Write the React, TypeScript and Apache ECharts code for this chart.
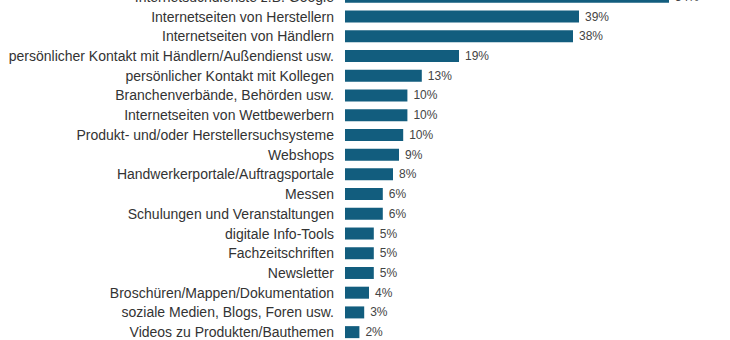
import React, { useEffect, useRef } from "react";
import * as echarts from "echarts";

const categories = [
  "Internetsuchdienste z.B. Google",
  "Internetseiten von Herstellern",
  "Internetseiten von Händlern",
  "persönlicher Kontakt mit Händlern/Außendienst usw.",
  "persönlicher Kontakt mit Kollegen",
  "Branchenverbände, Behörden usw.",
  "Internetseiten von Wettbewerbern",
  "Produkt- und/oder Herstellersuchsysteme",
  "Webshops",
  "Handwerkerportale/Auftragsportale",
  "Messen",
  "Schulungen und Veranstaltungen",
  "digitale Info-Tools",
  "Fachzeitschriften",
  "Newsletter",
  "Broschüren/Mappen/Dokumentation",
  "soziale Medien, Blogs, Foren usw.",
  "Videos zu Produkten/Bauthemen",
];

const values = [54, 39, 38, 19, 12.8, 10.4, 10.4, 9.7, 9, 8, 6.3, 6.3, 4.8, 4.8, 4.8, 4, 3.2, 2.4];
const labels = ["54%", "39%", "38%", "19%", "13%", "10%", "10%", "10%", "9%", "8%", "6%", "6%", "5%", "5%", "5%", "4%", "3%", "2%"];

export default function App() {
  const ref = useRef<HTMLDivElement>(null);
  useEffect(() => {
    if (!ref.current) return;
    const chart = echarts.init(ref.current, undefined, { renderer: "svg" });
    chart.setOption({
      animation: false,
      backgroundColor: "#ffffff",
      grid: { left: 345, right: 25, top: 0, bottom: 0, containLabel: false },
      xAxis: {
        type: "value",
        min: 0,
        max: 60,
        show: false,
      },
      yAxis: {
        type: "category",
        data: categories,
        inverse: true,
        axisLine: { show: false },
        axisTick: { show: false },
        splitLine: { show: false },
        axisLabel: {
          margin: 11,
          color: "#333333",
          fontFamily: "Liberation Sans, Arial, sans-serif",
          fontSize: 14,
        },
      },
      series: [
        {
          type: "bar",
          data: values,
          barWidth: 12,
          itemStyle: { color: "#125d7e" },
          label: {
            show: true,
            position: "right",
            distance: 6,
            color: "#444444",
            fontFamily: "Liberation Sans, Arial, sans-serif",
            fontSize: 12,
            formatter: (p: any) => labels[p.dataIndex],
          },
        },
      ],
    });
    return () => chart.dispose();
  }, []);
  return (
    <div style={{ position: "fixed", left: 0, top: 0, width: 730, height: 340, overflow: "hidden", background: "#fff" }}>
      <div
        ref={ref}
        style={{ position: "absolute", left: 0, top: -13.5, width: 730, height: 355 }}
      />
    </div>
  );
}
